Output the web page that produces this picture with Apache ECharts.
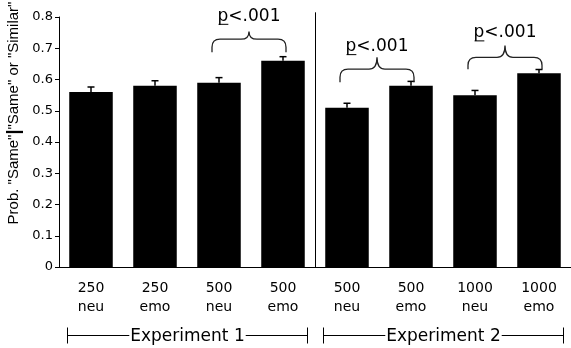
<!DOCTYPE html>
<html>
<head>
<meta charset="utf-8">
<script src="https://cdn.jsdelivr.net/npm/echarts@6/dist/echarts.min.js"></script>
<style>
html, body { margin: 0; padding: 0; background: #fff; }
#main { width: 571px; height: 348px; }
</style>
</head>
<body>
<div id="main"></div>
<script>
// data
var categories = ['250\nneu', '250\nemo', '500\nneu', '500\nemo', '500\nneu', '500\nemo', '1000\nneu', '1000\nemo']
var probSame = [0.56, 0.58, 0.59, 0.66, 0.51, 0.58, 0.55, 0.62]
var stdErr = [0.016, 0.016, 0.016, 0.013, 0.014, 0.014, 0.015, 0.012]
var groupNames = ['Experiment 1', 'Experiment 2']
var groupSpans = [[0, 3], [4, 7]]
var dividerAfter = [3]
// brace: first cat, last cat, end level, bar level, tip level, text level
var braces = [
    [2, 3, 0.687, 0.729, 0.754, 0.775],
    [4, 5, 0.591, 0.633, 0.671, 0.678],
    [6, 7, 0.633, 0.671, 0.709, 0.722]
]
var braceText = 'p<.001'
var yLabel = '{a|Prob. "Same"}{b||}{a|"Same" or "Similar"}'

var font = 'DejaVu Sans'

function crisp(v) {
    return Math.round(v) + 0.5
}

function renderErr(params, api) {
    var base = api.coord([api.value(0), api.value(1)])
    var top = api.coord([api.value(0), api.value(1) + api.value(2)])
    var x = base[0]
    return {
        type: 'group',
        children: [
            { type: 'line', shape: { x1: x, y1: base[1], x2: x, y2: top[1] }, style: { stroke: '#000', lineWidth: 1.5 } },
            { type: 'line', shape: { x1: x - 3.5, y1: top[1], x2: x + 3.5, y2: top[1] }, style: { stroke: '#000', lineWidth: 1.5 } }
        ]
    }
}

function renderBrace(params, api) {
    var l = api.coord([api.value(0), api.value(2)])
    var r = api.coord([api.value(1), api.value(2)])
    var yH = api.coord([api.value(0), api.value(3)])[1]
    var yP = api.coord([api.value(0), api.value(4)])[1]
    var yT = api.coord([api.value(0), api.value(5)])[1]
    var xL = l[0] - 7, xR = r[0] + 3, xM = (xL + xR) / 2, yE = l[1]
    var k = 8
    var d = 'M' + xL + ',' + yE +
        ' L' + xL + ',' + (yH + k) +
        ' Q' + xL + ',' + yH + ' ' + (xL + k) + ',' + yH +
        ' L' + (xM - k) + ',' + yH +
        ' Q' + xM + ',' + yH + ' ' + xM + ',' + yP +
        ' Q' + xM + ',' + yH + ' ' + (xM + k) + ',' + yH +
        ' L' + (xR - k) + ',' + yH +
        ' Q' + xR + ',' + yH + ' ' + xR + ',' + (yH + k) +
        ' L' + xR + ',' + yE
    var fs = 17
    var w = 3.7 * fs
    var px0 = xM - w / 2
    return {
        type: 'group',
        children: [
            { type: 'path', shape: { pathData: d }, style: { stroke: '#222', fill: null, lineWidth: 1.3 } },
            { type: 'text', style: { text: braceText, x: xM, y: yT, align: 'center', verticalAlign: 'bottom', font: fs + 'px "' + font + '"', fill: '#000' } },
            { type: 'line', shape: { x1: px0 + 1, y1: yT - 0.5, x2: px0 + 0.635 * fs, y2: yT - 0.5 }, style: { stroke: '#000', lineWidth: 1 } }
        ]
    }
}

function renderGroup(params, api) {
    var a = api.coord([api.value(0), 0])
    var b = api.coord([api.value(1), 0])
    var bw = api.size([1, 0])[0]
    var xL = crisp(a[0] - bw / 2 + 8), xR = crisp(b[0] + bw / 2 - 8), y = crisp(a[1] + 68)
    return {
        type: 'group',
        children: [
            { type: 'line', shape: { x1: xL, y1: y, x2: xR, y2: y }, style: { stroke: '#000', lineWidth: 1 } },
            { type: 'line', shape: { x1: xL, y1: y - 8, x2: xL, y2: y + 8 }, style: { stroke: '#000', lineWidth: 1 } },
            { type: 'line', shape: { x1: xR, y1: y - 8, x2: xR, y2: y + 8 }, style: { stroke: '#000', lineWidth: 1 } },
            { type: 'text', style: { text: groupNames[params.dataIndex], x: (xL + xR) / 2, y: y + 1, align: 'center', verticalAlign: 'middle', font: '17px "' + font + '"', fill: '#000', backgroundColor: '#fff', padding: [0, 1] } }
        ]
    }
}

function renderDivider(params, api) {
    var a = api.coord([api.value(0), 0])
    var top = api.coord([api.value(0), 0.815])
    var x = crisp(a[0] + api.size([1, 0])[0] / 2)
    return { type: 'line', shape: { x1: x, y1: top[1], x2: x, y2: a[1] }, style: { stroke: '#000', lineWidth: 1 } }
}

var chart = echarts.init(document.getElementById('main'))
chart.setOption({
    animation: false,
    textStyle: { fontFamily: font },
    grid: { left: 59, right: -4, top: 17, bottom: 81 },
    xAxis: {
        type: 'category',
        data: categories,
        axisLine: { lineStyle: { color: '#000', width: 1 } },
        axisTick: { length: 4, lineStyle: { color: '#000' } },
        axisLabel: { interval: 0, color: '#000', fontSize: 14, lineHeight: 19, margin: 12 }
    },
    yAxis: {
        type: 'value',
        min: 0,
        max: 0.8,
        interval: 0.1,
        axisLine: { show: true, lineStyle: { color: '#000', width: 1 } },
        axisTick: { show: true, length: 4, lineStyle: { color: '#000' } },
        axisLabel: { color: '#000', fontSize: 13, margin: 6 },
        splitLine: { show: false }
    },
    graphic: [{
        type: 'text',
        x: 14,
        y: 113,
        rotation: Math.PI / 2,
        style: {
            text: yLabel,
            align: 'center',
            verticalAlign: 'middle',
            rich: {
                a: { fontFamily: 'Liberation Sans', fontSize: 15, fill: '#000', color: '#000' },
                b: { fontFamily: 'Liberation Sans', fontSize: 18, fontWeight: 'bold', fill: '#000', color: '#000' }
            }
        }
    }],
    series: [
        {
            type: 'bar',
            data: probSame,
            barWidth: '68%',
            itemStyle: { color: '#000' }
        },
        {
            type: 'custom',
            renderItem: renderErr,
            data: probSame.map(function (v, i) { return [i, v, stdErr[i]] }),
            z: 3
        },
        {
            type: 'custom',
            renderItem: renderBrace,
            data: braces,
            z: 4
        },
        {
            type: 'custom',
            renderItem: renderGroup,
            data: groupSpans,
            z: 4
        },
        {
            type: 'custom',
            renderItem: renderDivider,
            data: dividerAfter.map(function (i) { return [i] }),
            z: 4
        }
    ]
})
</script>
</body>
</html>
